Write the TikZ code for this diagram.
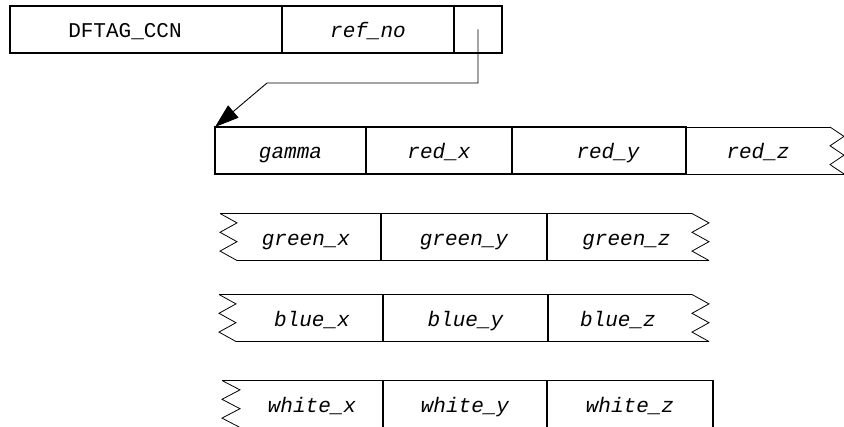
\documentclass[tikz,border=0pt]{standalone}
\usepackage{fontspec}
\setmonofont{Liberation Mono}
\usetikzlibrary{arrows.meta,positioning,calc}

% torn (zigzag) end of a record: start point, width, height
\newcommand{\tornedge}[3]{%
    \draw[torn_edge] #1 -- ++(#2,#3/5) -- ++(-#2,#3/5) -- ++(#2,#3/5)
        -- ++(-#2,#3/5) -- ++(#2,#3/5);}

\begin{document}
\begin{tikzpicture}[x=1pt, y=-1pt,
    cell/.style={draw, line width=1.4pt, minimum height=47pt, inner sep=0pt, outer sep=0pt,
        text height=20pt, text depth=3pt, font=\fontsize{21}{24}\selectfont\ttfamily\itshape},
    tag_cell/.style={cell, font=\fontsize{21}{24}\selectfont\ttfamily},
    open_cell/.style={cell, draw=none},
    thin_edge/.style={line width=0.8pt},
    torn_edge/.style={line width=0.8pt},
    ptr_edge/.style={-{Triangle[length=24pt,width=16pt]}, line width=0.9pt}
]
\useasboundingbox (0,0) rectangle (844,427);

    % --- Tag record ---
    \node[tag_cell, minimum width=272pt] (tag) at (146,29.5) {DFTAG\_CCN\hspace*{42pt}};
    \node[cell, minimum width=172pt, right=0pt of tag] (ref) {ref\_no};
    \node[cell, minimum width=48pt, right=0pt of ref] (ptr) {};

    % --- Red row ---
    \node[cell, minimum width=151pt] (gamma) at (290.5,150.5) {gamma};
    \node[cell, minimum width=146pt, right=0pt of gamma] (redx) {red\_x};
    \node[cell, minimum width=174pt, right=0pt of redx] (redy) {\hspace*{18pt}red\_y};
    \node[open_cell, minimum width=144pt, right=0pt of redy] (redz) {red\_z};
    \draw[thin_edge] (redz.north west) -- (redz.north east);
    \draw[thin_edge] (redz.south west) -- ($(redz.south east)+(14,0)$);
    \tornedge{(redz.north east)}{14}{47}

    % --- Green row ---
    \node[open_cell, minimum width=161pt] (greenx) at (300.5,237) {\hspace*{11pt}green\_x};
    \node[cell, minimum width=166pt, right=0pt of greenx] (greeny) {green\_y};
    \node[open_cell, minimum width=145pt, right=0pt of greeny] (greenz) {\hspace*{14pt}green\_z};
    \draw[cell] (greenx.north west) -- (greenx.north east);
    \draw[thin_edge] ($(greenx.south west)+(17,0)$) -- (greenx.south east);
    \draw[thin_edge] (greenz.north west) -- (greenz.north east);
    \draw[thin_edge] (greenz.south west) -- ($(greenz.south east)+(17,0)$);
    \tornedge{(greenx.north west)}{17}{47}
    \tornedge{(greenz.north east)}{17}{47}

    % --- Blue row ---
    \node[open_cell, minimum width=164pt] (bluex) at (301,318) {\hspace*{22pt}blue\_x};
    \node[cell, minimum width=165pt, right=0pt of bluex] (bluey) {blue\_y};
    \node[open_cell, minimum width=144pt, right=0pt of bluey] (bluez) {\hspace*{-4pt}blue\_z};
    \draw[cell] (bluex.north west) -- (bluex.north east);
    \draw[thin_edge] ($(bluex.south west)+(17,0)$) -- (bluex.south east);
    \draw[thin_edge] (bluez.north west) -- (bluez.north east);
    \draw[thin_edge] (bluez.south west) -- ($(bluez.south east)+(17,0)$);
    \tornedge{(bluex.north west)}{17}{47}
    \tornedge{(bluez.north east)}{17}{47}

    % --- White row ---
    \node[open_cell, minimum width=161pt] (whitex) at (302.5,404) {\hspace*{19pt}white\_x};
    \node[cell, minimum width=164pt, right=0pt of whitex] (whitey) {white\_y};
    \node[cell, minimum width=166pt, right=0pt of whitey] (whitez) {white\_z};
    \draw[cell] (whitex.north west) -- (whitex.north east);
    \draw[thin_edge] ($(whitex.south west)+(18,0)$) -- (whitex.south east);
    \tornedge{(whitex.north west)}{18}{47}

    % --- Pointer to the colour data ---
    \coordinate (bend) at (267,83);
    \draw[ptr_edge] (ptr.center) |- (bend) -- (gamma.north west);

\end{tikzpicture}
\end{document}
